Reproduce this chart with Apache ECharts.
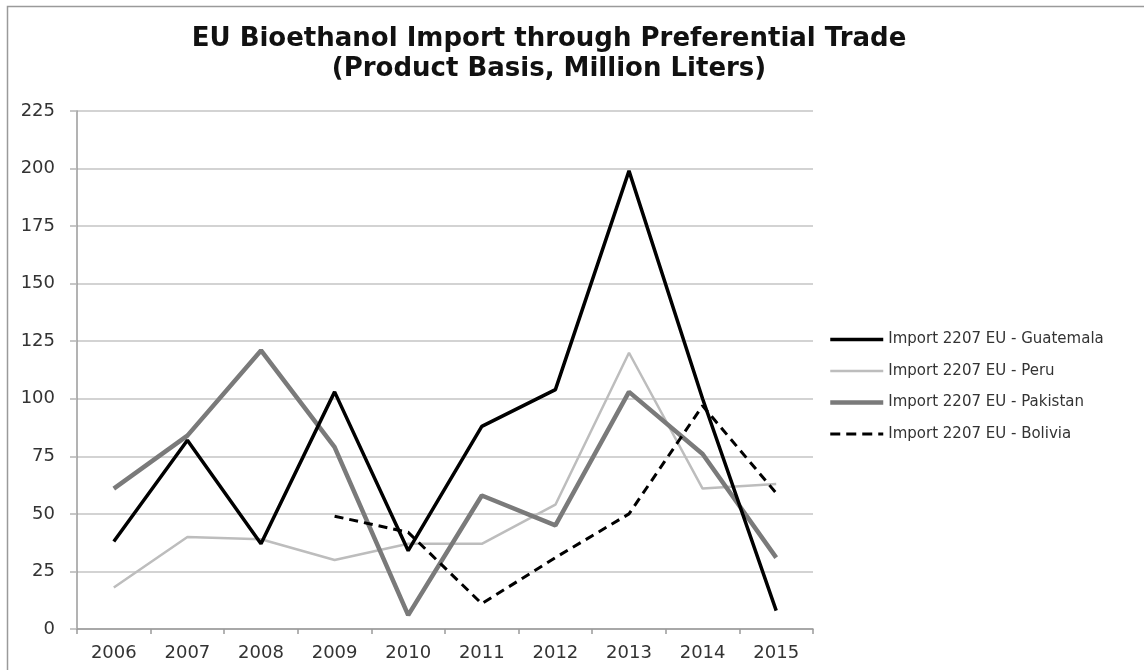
<!DOCTYPE html>
<html>
<head>
<meta charset="utf-8">
<script src="https://cdn.jsdelivr.net/npm/echarts@6/dist/echarts.min.js"></script>
<style>
html,body{margin:0;padding:0;background:#fff;}
#chart{width:1144px;height:670px;}
</style>
</head>
<body>
<div id="chart"></div>
<script>
var years = ['2006','2007','2008','2009','2010','2011','2012','2013','2014','2015'];
var guatemala = [38, 82, 37, 103, 34, 88, 104, 199, 100, 8];
var peru = [18, 40, 39, 30, 37, 37, 54, 120, 61, 63];
var pakistan = [61, 84, 121, 79, 6, 58, 45, 103, 76, 31];
var bolivia = [null, null, null, 49, 42, 11, 31, 50, 97, 59];
var seriesNames = ['Import 2207 EU - Guatemala', 'Import 2207 EU - Peru', 'Import 2207 EU - Pakistan', 'Import 2207 EU - Bolivia'];
var titleLines = ['EU Bioethanol Import through Preferential Trade', '(Product Basis, Million Liters)'];

var styles = [
  { color: '#000', width: 3.5, type: 'solid' },
  { color: '#bdbdbd', width: 2.5, type: 'solid' },
  { color: '#7a7a7a', width: 4.5, type: 'solid' },
  { color: '#000', width: 3, type: [9, 6] }
];
var seriesData = [guatemala, peru, pakistan, bolivia];

var chart = echarts.init(document.getElementById('chart'));
var FONT = 'DejaVu Sans';
chart.setOption({
  animation: false,
  backgroundColor: '#fff',
  textStyle: { fontFamily: FONT },
  graphic: [
    { type: 'rect', silent: true, shape: { x: 7.5, y: 6.5, width: 1150, height: 680 }, style: { fill: 'none', stroke: '#9a9a9a', lineWidth: 1.5 } }
  ],
  title: {
    text: titleLines.join('\n'),
    left: 544, top: 19, textAlign: 'center',
    textStyle: { fontFamily: FONT, fontWeight: 'bold', fontSize: 26, lineHeight: 30, color: '#111' }
  },
  legend: {
    orient: 'vertical',
    left: 823, top: 327,
    itemWidth: 53, itemHeight: 14, itemGap: 16.5,
    itemStyle: { opacity: 0 },
    textStyle: { fontFamily: FONT, fontSize: 15, color: '#333' },
    data: seriesNames.map(function (n, i) {
      return { name: n, lineStyle: { color: styles[i].color, width: styles[i].width, type: styles[i].type === 'solid' ? 'solid' : [10, 6] }, itemStyle: { opacity: 0 } };
    })
  },
  grid: { left: 77, right: 331, top: 111, bottom: 41 },
  xAxis: {
    type: 'category',
    data: years,
    boundaryGap: true,
    axisLine: { lineStyle: { color: '#9a9a9a', width: 1.5 } },
    axisTick: { show: true, length: 5, lineStyle: { color: '#9a9a9a', width: 1.5 } },
    axisLabel: { fontFamily: FONT, fontSize: 18, color: '#333', margin: 15 }
  },
  yAxis: {
    type: 'value',
    min: 0, max: 225, interval: 25,
    axisLine: { show: true, lineStyle: { color: '#9a9a9a', width: 1.5 } },
    axisTick: { show: true, length: 7, lineStyle: { color: '#b5b5b5', width: 1.5 } },
    splitLine: { lineStyle: { color: '#c4c4c4', width: 1.5 } },
    axisLabel: { fontFamily: FONT, fontSize: 18, color: '#333', margin: 22 }
  },
  series: seriesNames.map(function (n, i) {
    return {
      name: n, type: 'line', data: seriesData[i], symbol: 'none', connectNulls: false,
      lineStyle: { color: styles[i].color, width: styles[i].width, type: styles[i].type },
      itemStyle: { color: styles[i].color },
      z: [4, 2, 3, 5][i]
    };
  })
});
</script>
</body>
</html>
